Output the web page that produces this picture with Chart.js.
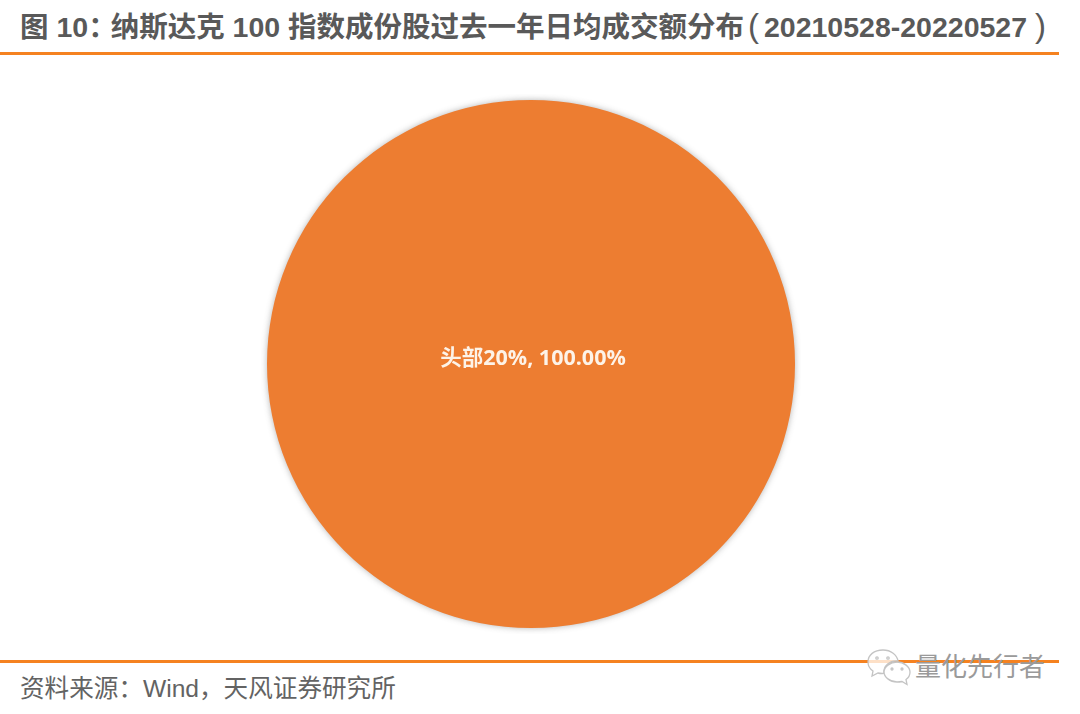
<!DOCTYPE html>
<html lang="zh">
<head>
<meta charset="utf-8">
<script src="https://cdn.jsdelivr.net/npm/chart.js@4"></script>
<style>
  html, body { margin: 0; padding: 0; background: #fff; }
  #pagina { position: relative; width: 1080px; height: 714px; overflow: hidden; }
  #titulo {
    position: absolute; left: 20px; top: 4px; white-space: nowrap;
    font: bold 28.5px "Liberation Sans", "Noto Sans CJK SC", sans-serif; color: #595959;
  }
  #titulo .par { font-weight: normal; font-size: 33px; line-height: 1; }
  .linha { position: absolute; left: 0; width: 1059px; height: 3px; background: #f58220; }
  #fonte {
    position: absolute; left: 20px; top: 668px; white-space: nowrap;
    font: 24.6px "Liberation Sans", "Noto Sans CJK SC", sans-serif; color: #636363;
  }
  #marca {
    position: absolute; left: 915px; top: 646px; white-space: nowrap;
    font: 26px "Noto Sans CJK SC", sans-serif; color: #9a9a9a;
  }
  #icone { position: absolute; left: 866px; top: 648px; }
  #area-grafico { position: absolute; left: 261px; top: 94px; width: 540px; height: 540px; }
</style>
</head>
<body>
<div id="pagina">
  <div id="titulo">图 10<span style="margin-right:-6px">：</span>纳斯达克 100 指数成份股过去一年日均成交额分布<span class="par" style="margin-left:4px;margin-right:-3px">(</span> 20210528-20220527 <span class="par">)</span></div>
  <div class="linha" style="top:52px"></div>
  <div id="area-grafico"><canvas id="grafico"></canvas></div>
  <div class="linha" style="top:660px"></div>
  <div id="fonte">资料来源：Wind，天风证券研究所</div>
  <svg id="icone" width="46" height="40" viewBox="0 0 46 40" fill="rgba(255,255,255,0.75)" stroke="#c4c4c4" stroke-width="1.3">
    <path d="M17 2C8 2 2 7 2 14c0 4 2 7 5 9l-1 5 6-3c2 .5 4 .6 6 .4C17 18 24 12 32 13 31 7 25 2 17 2z"/>
    <path d="M31 14c-7 0-13 5-13 10s6 10 13 10c2 0 3 0 5-.5l5 3-1-5c3-2 4-4.500 4-7.500 0-5-6-10-13-10z"/>
    <circle cx="11" cy="10" r="1.200"/><circle cx="22" cy="10" r="1.200"/>
    <circle cx="26" cy="21" r="1"/><circle cx="36" cy="21" r="1"/>
  </svg>
  <div id="marca">量化先行者</div>
</div>

<script>
const categorias = ['头部20%'];
const valores = [100];
const percentuais = ['100.00%'];

// Sombra suave em volta da pizza e rótulo no centro da fatia
const pluginPizza = {
    id: 'pluginPizza',
    beforeDatasetDraw(chart) {
        const ctx = chart.ctx;
        ctx.save();
        ctx.shadowColor = 'rgba(90, 90, 90, 0.45)';
        ctx.shadowBlur = 6;
    },
    afterDatasetDraw(chart) {
        chart.ctx.restore();
    },
    afterDatasetsDraw(chart) {
        const ctx = chart.ctx;
        const arco = chart.getDatasetMeta(0).data[0];
        ctx.save();
        ctx.fillStyle = '#fdf3e8';
        ctx.font = 'bold 21.5px "Open Sans", "Noto Sans CJK SC", sans-serif';
        ctx.textAlign = 'center';
        ctx.textBaseline = 'middle';
        ctx.fillText(categorias[0] + ', ' + percentuais[0], arco.x + 2, arco.y - 5);
        ctx.restore();
    }
};

new Chart(document.getElementById('grafico'), {
    type: 'pie',
    data: {
        labels: categorias,
        datasets: [{
            data: valores,
            backgroundColor: '#ed7d31',
            borderWidth: 0
        }]
    },
    options: {
        responsive: true,
        maintainAspectRatio: false,
        animation: false,
        layout: { padding: 6 },
        plugins: {
            legend: { display: false },
            title: { display: false },
            tooltip: { enabled: false }
        }
    },
    plugins: [pluginPizza]
});
</script>
</body>
</html>
